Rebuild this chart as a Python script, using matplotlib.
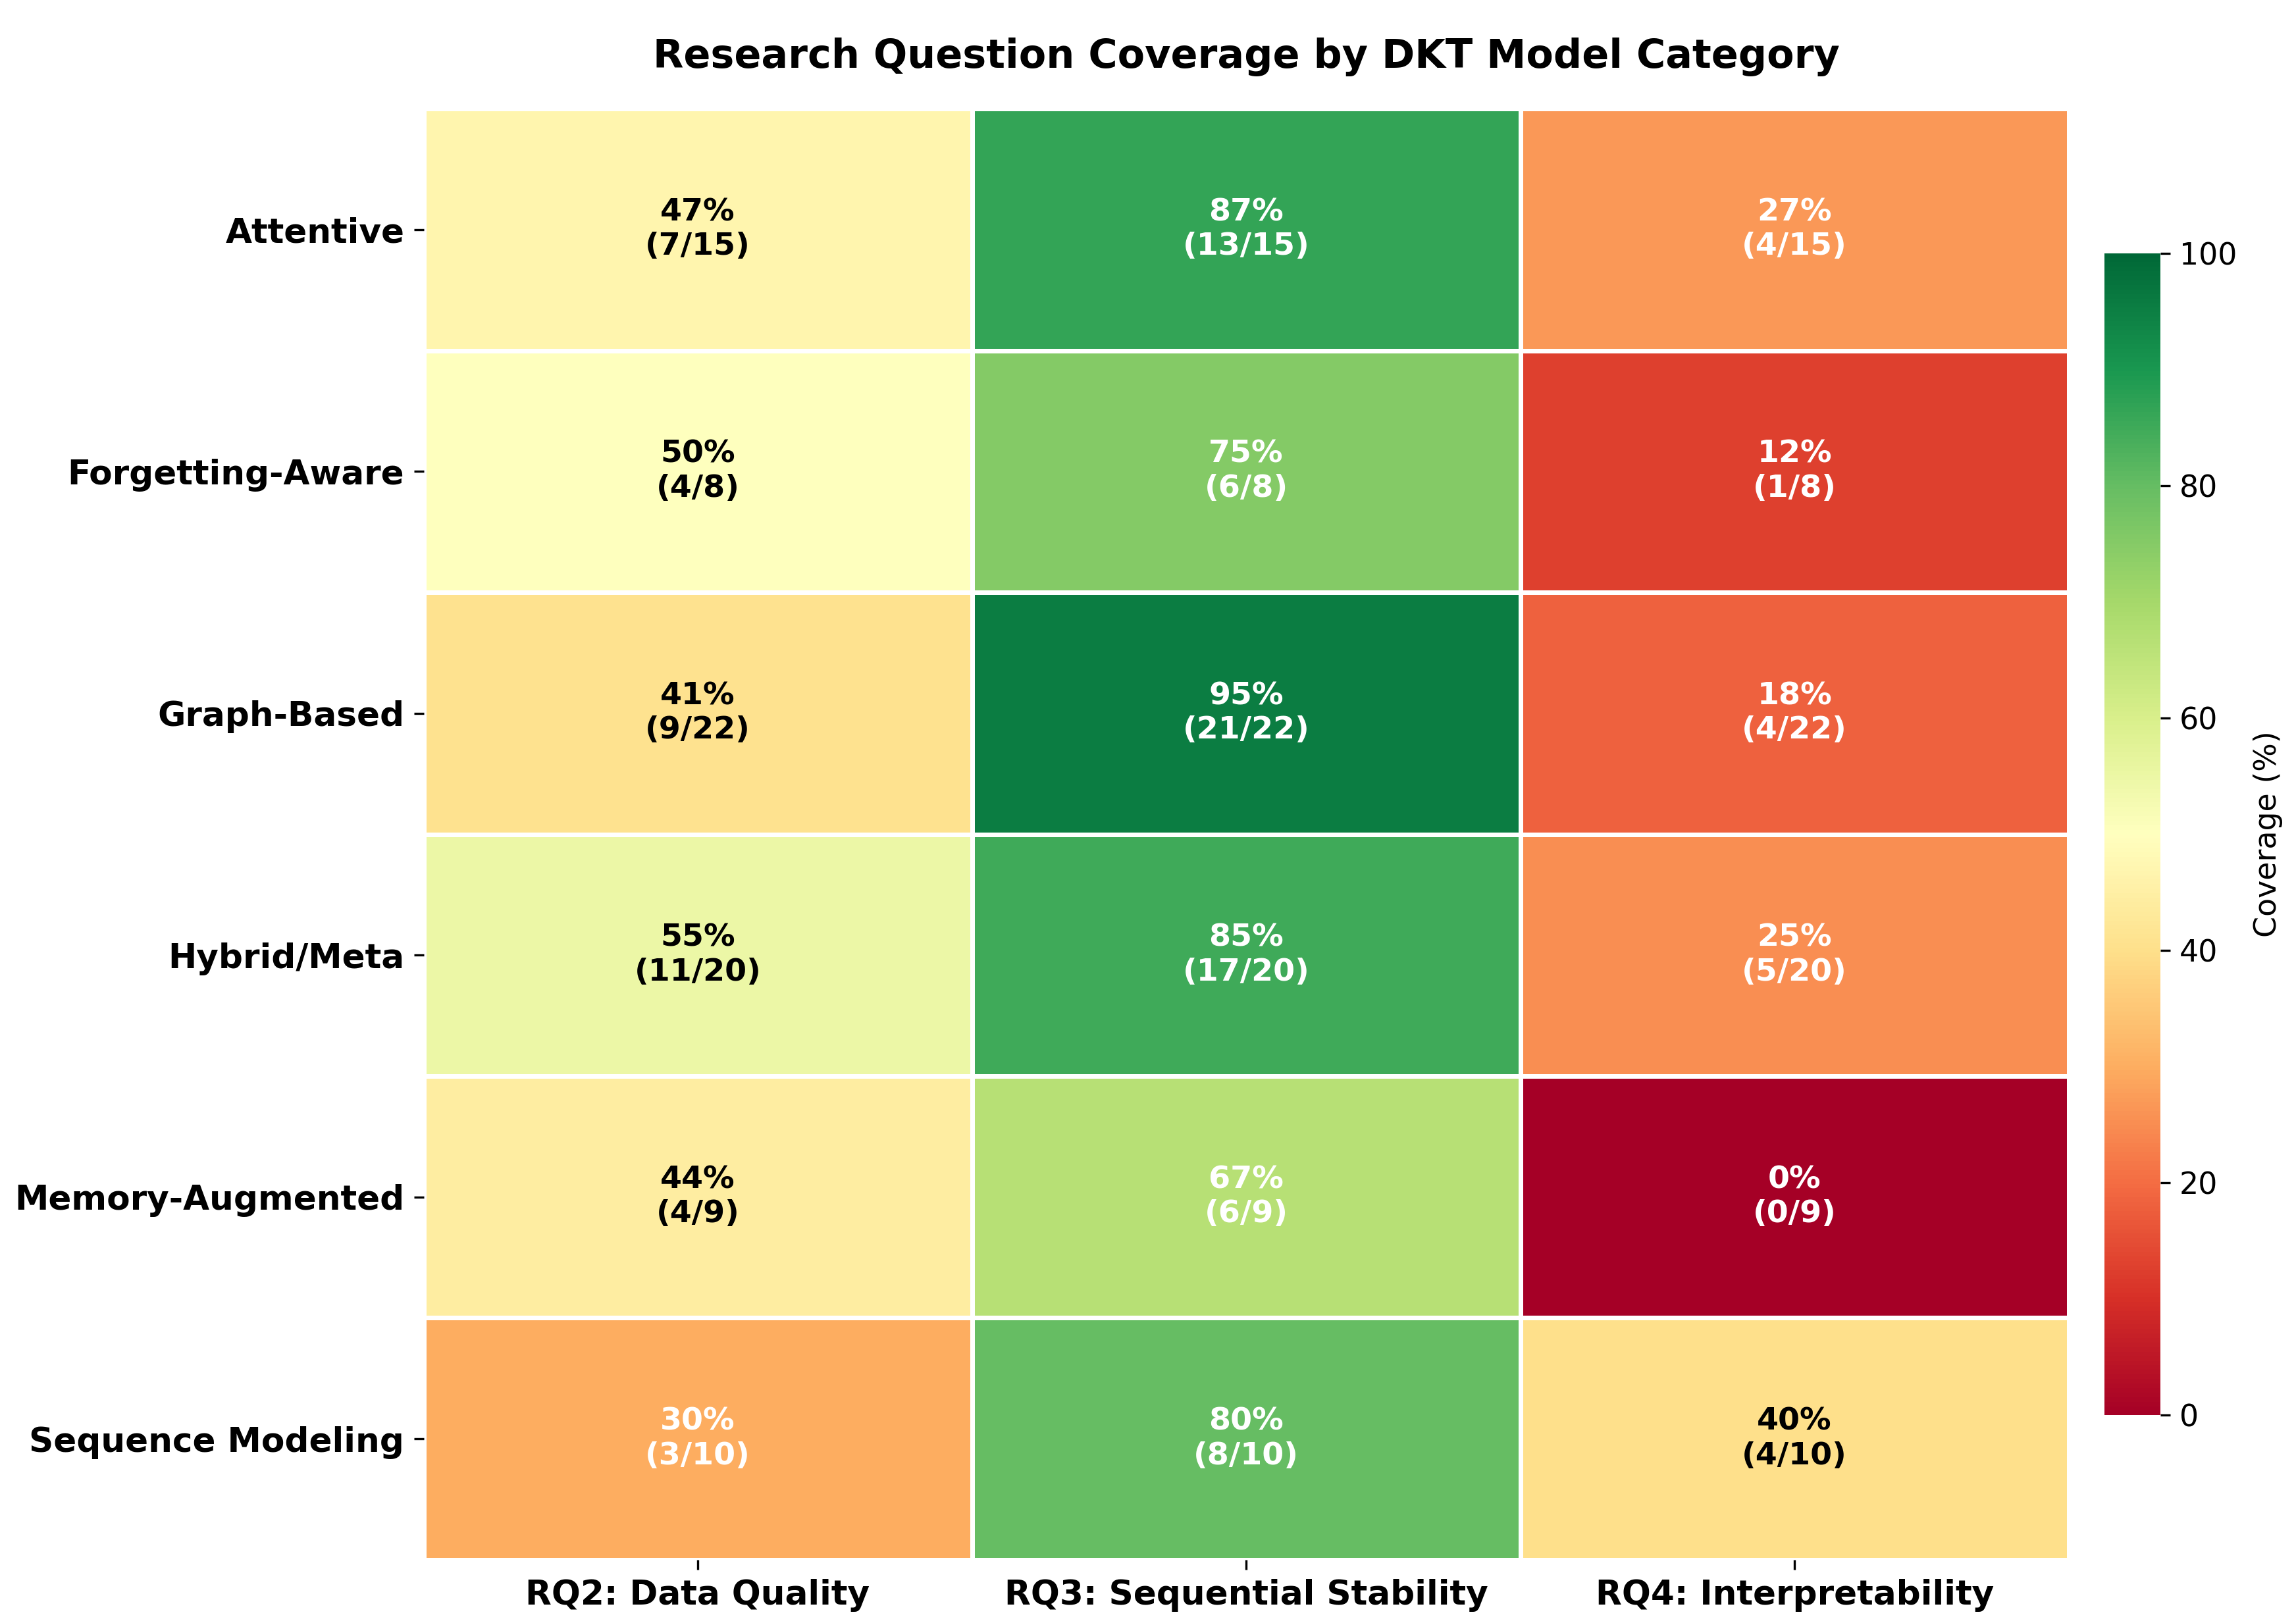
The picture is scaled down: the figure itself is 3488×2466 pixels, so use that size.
import numpy as np
import matplotlib
matplotlib.use("Agg")
import matplotlib.pyplot as plt

# data
categories = ["Attentive", "Forgetting-Aware", "Graph-Based", "Hybrid/Meta",
              "Memory-Augmented", "Sequence Modeling"]
questions = ["RQ2: Data Quality", "RQ3: Sequential Stability", "RQ4: Interpretability"]
totals = [15, 8, 22, 20, 9, 10]
rq2_hits = [7, 4, 9, 11, 4, 3]
rq3_hits = [13, 6, 21, 17, 6, 8]
rq4_hits = [4, 1, 4, 5, 0, 4]

hits = np.array([rq2_hits, rq3_hits, rq4_hits]).T
pct = hits / np.array(totals)[:, None] * 100

fig = plt.figure(figsize=(3488 / 300, 2466 / 300), dpi=300)
ax = fig.add_axes([0.1845, 0.039, 0.7165, 0.894])
cax = fig.add_axes([0.9165, 0.128, 0.0244, 0.716])

mesh = ax.pcolormesh(pct, cmap="RdYlGn", vmin=0, vmax=100,
                     edgecolors="white", linewidth=1.3)
ax.set_xlim(0, len(questions))
ax.set_ylim(len(categories), 0)
for s in ax.spines.values():
    s.set_visible(False)

ax.set_xticks(np.arange(len(questions)) + 0.5)
ax.set_xticklabels(questions, fontsize=12.4, fontweight="bold")
ax.set_yticks(np.arange(len(categories)) + 0.5)
ax.set_yticklabels(categories, fontsize=12.4, fontweight="bold")

for i in range(len(categories)):
    for j in range(len(questions)):
        v = pct[i, j]
        col = "white" if (v < 35 or v > 65) else "black"
        ax.text(j + 0.5, i + 0.5, f"{v:.0f}%\n({hits[i, j]}/{totals[i]})",
                ha="center", va="center", fontsize=11.4, fontweight="bold",
                color=col)

ax.set_title("Research Question Coverage by DKT Model Category",
             fontsize=14.5, fontweight="bold", pad=15)

cb = fig.colorbar(mesh, cax=cax)
cb.outline.set_visible(False)
cb.ax.tick_params(labelsize=11)
cb.set_label("Coverage (%)", fontsize=11, labelpad=6)

fig.savefig("out.png", dpi=300)
